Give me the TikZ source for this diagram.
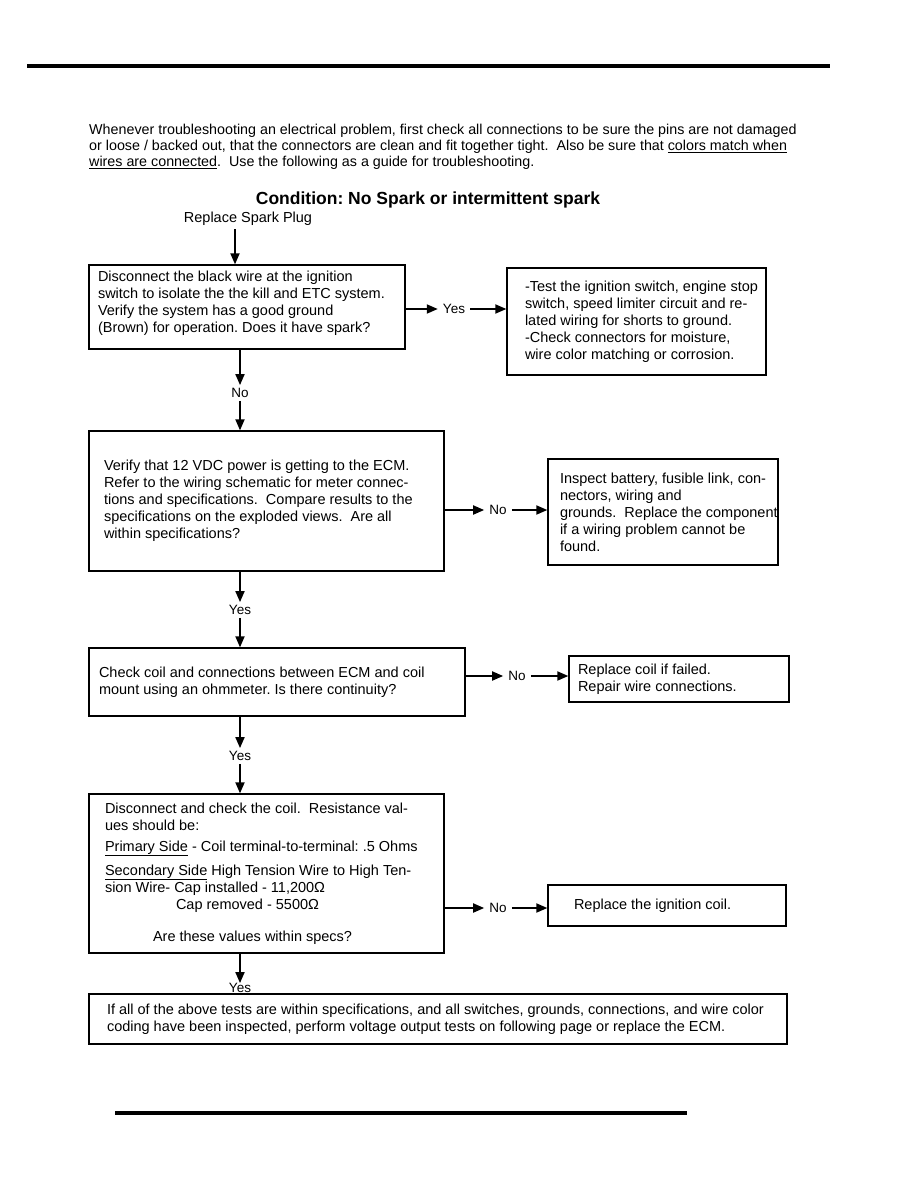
\documentclass[tikz,border=0pt]{standalone}
\usepackage{fontspec}
\setmainfont{Liberation Sans}
\usetikzlibrary{arrows.meta,positioning}

\begin{document}
\frenchspacing
\begin{tikzpicture}[x=1pt,y=-1pt,
    every node/.style={font=\fontsize{14.5}{17}\selectfont},
    box/.style={draw,line width=1.3pt,align=flush left,inner ysep=2pt},
    lbl/.style={font=\fontsize{13.5}{15}\selectfont,inner xsep=5pt,inner ysep=3pt},
    arr/.style={line width=1.8pt,-{Triangle[length=11pt,width=9pt]}}]
  \useasboundingbox (0,0) rectangle (918,1188);
  % Page rules
  \draw[line width=3.5pt] (27,66) -- (830,66);
  \draw[line width=3.5pt] (115,1113) -- (687,1113);
  % Intro and title
  \node[anchor=north west,align=left,inner sep=0pt,font=\fontsize{14.3}{16}\selectfont] (intro) at (89,124)
    {Whenever troubleshooting an electrical problem, first check all connections to be sure the pins are not damaged\\
     or loose / backed out, that the connectors are clean and fit together tight.~ Also be sure that \underline{colors match when}\\
     \underline{wires are connected}.~ Use the following as a guide for troubleshooting.};
  \node[font=\fontsize{17.5}{20}\selectfont\bfseries] (title) at (428,200) {Condition: No Spark or intermittent spark};
  \node (plug) at (248,219) {Replace Spark Plug};
  % Decision boxes
  \node[box,minimum width=316,minimum height=84,inner xsep=9pt,text width=298] (check) at (247,307)
    {Disconnect the black wire at the ignition\\switch to isolate the the kill and ETC system.\\Verify the system has a good ground\\(Brown) for operation. Does it have spark?\\[-6pt]\mbox{}};
  \node[box,minimum width=355,minimum height=140,inner xsep=15pt,text width=325] (power) at (266.5,501)
    {Verify that 12 VDC power is getting to the ECM.\\Refer to the wiring schematic for meter connec-\\tions and specifications.~ Compare results to the\\specifications on the exploded views.~ Are all\\within specifications?};
  \node[box,minimum width=376,minimum height=68,inner xsep=10pt,text width=356] (coil) at (277,682)
    {Check coil and connections between ECM and coil\\mount using an ohmmeter. Is there continuity?};
  \node[box,minimum width=355,minimum height=159,inner xsep=16pt,text width=323] (resist) at (266.5,873.5)
    {Disconnect and check the coil.~ Resistance val-\\ues should be:\\[4pt]
     \underline{Primary Side} - Coil terminal-to-terminal: .5 Ohms\\[7pt]
     \underline{Secondary Side} High Tension Wire to High Ten-\\sion Wire- Cap installed - 11,200Ω\\
     \hspace*{71pt}Cap removed - 5500Ω\\[15pt]
     \hspace*{48pt}Are these values within specs?};
  % Result boxes
  \node[box,minimum width=259,minimum height=107,inner xsep=18pt,text width=223] (switch) at (636.5,321.5)
    {\mbox{-Test the ignition switch, engine stop}\\\mbox{switch, speed limiter circuit and re-}\\lated wiring for shorts to ground.\\-Check connectors for moisture,\\wire color matching or corrosion.};
  \node[box,minimum width=230,minimum height=106,inner xsep=12pt,text width=206] (battery) at (663,512)
    {Inspect battery, fusible link, con-\\nectors, wiring and\\\mbox{grounds.~ Replace the component}\\if a wiring problem cannot be\\found.};
  \node[box,minimum width=220,minimum height=46,inner xsep=9pt,text width=202] (repair) at (679,679)
    {Replace coil if failed.\\Repair wire connections.};
  \node[box,minimum width=238,minimum height=41,inner xsep=26pt,text width=186] (replace) at (667,905.5)
    {Replace the ignition coil.};
  \node[box,minimum width=698,minimum height=50,inner xsep=18pt,text width=662] (ecm) at (438,1019)
    {If all of the above tests are within specifications, and all switches, grounds, connections, and wire color\\coding have been inspected, perform voltage output tests on following page or replace the ECM.};
  % Branch labels
  \node[lbl] (yes1) at (454,309) {Yes};
  \node[lbl] (no1)  at (240,393) {No};
  \node[lbl] (no2)  at (498,510) {No};
  \node[lbl] (yes2) at (240,610) {Yes};
  \node[lbl] (no3)  at (517,676) {No};
  \node[lbl] (yes3) at (240,756) {Yes};
  \node[lbl] (no4)  at (498,908) {No};
  \node[lbl,inner ysep=0pt] (yes4) at (240,988) {Yes};
  % Flow
  \draw[arr] ([xshift=-13pt]plug.south) -- ([xshift=-13pt]plug.south |- check.north);
  \draw[arr] (check.east |- yes1) -- (yes1.west);
  \draw[arr] (yes1.east) -- (yes1 -| switch.west);
  \draw[arr] (check.south -| no1) -- (no1.north);
  \draw[arr] (no1.south) -- (no1 |- power.north);
  \draw[arr] (power.east |- no2) -- (no2.west);
  \draw[arr] (no2.east) -- (no2 -| battery.west);
  \draw[arr] (power.south -| yes2) -- (yes2.north);
  \draw[arr] (yes2.south) -- (yes2 |- coil.north);
  \draw[arr] (coil.east |- no3) -- (no3.west);
  \draw[arr] (no3.east) -- (no3 -| repair.west);
  \draw[arr] (coil.south -| yes3) -- (yes3.north);
  \draw[arr] (yes3.south) -- (yes3 |- resist.north);
  \draw[arr] (resist.east |- no4) -- (no4.west);
  \draw[arr] (no4.east) -- (no4 -| replace.west);
  \draw[arr] (resist.south -| yes4) -- (yes4.north);
\end{tikzpicture}
\end{document}
